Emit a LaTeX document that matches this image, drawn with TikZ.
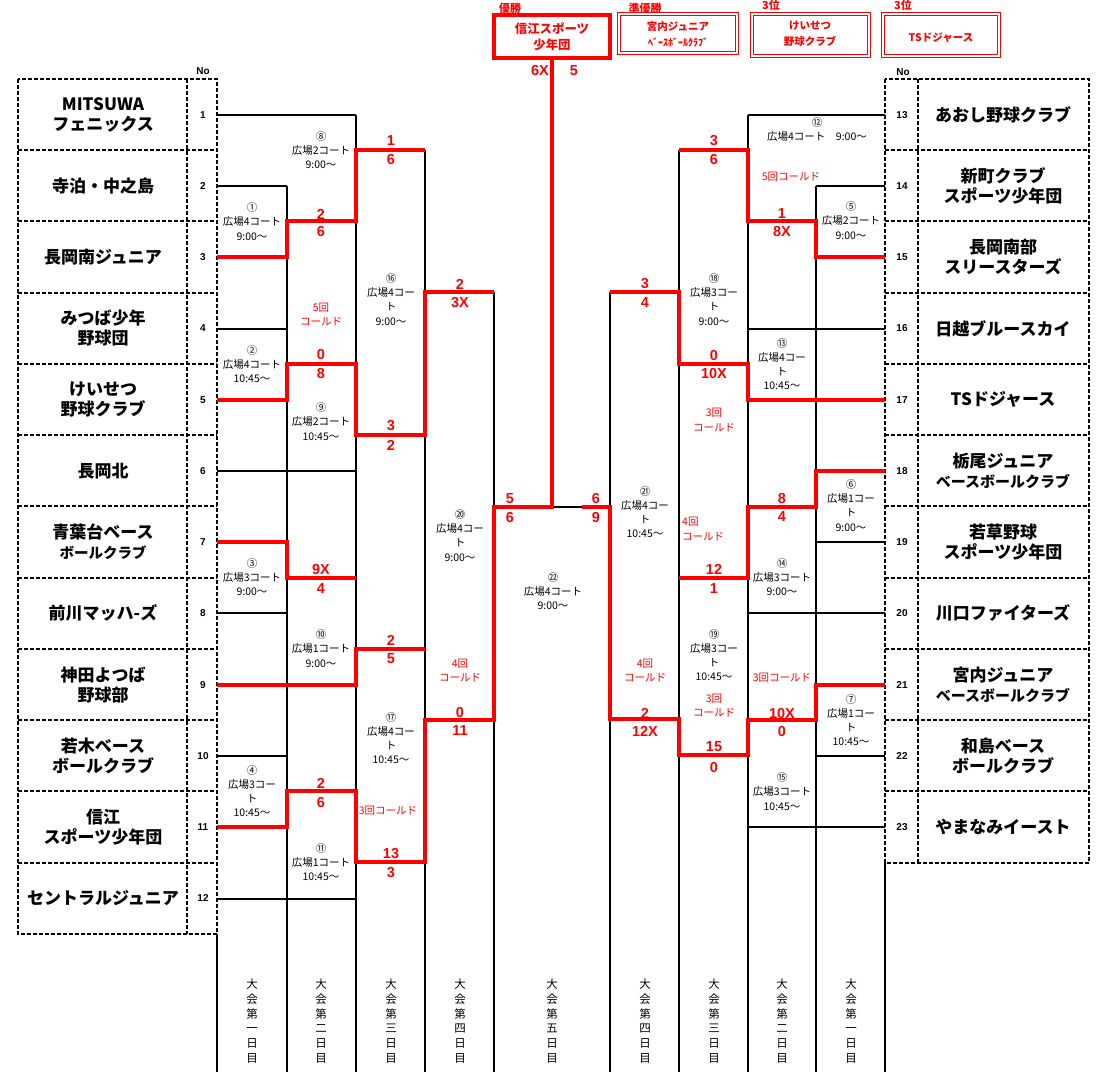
\documentclass[tikz,border=0pt]{standalone}
\usepackage{fontspec}
\newfontfamily\jp{Noto Sans CJK JP}
\newfontfamily\lsans{Liberation Sans}
\definecolor{rd}{RGB}{255,0,0}
\tikzset{
 colln/.style={line width=1.1pt, draw=black},
 blk/.style={line width=1.5pt, draw=black},
 redp/.style={line width=3.8pt, draw=rd, line join=miter},
 tbl/.style={line width=1.9pt, draw=black, dash pattern=on 4pt off 2pt},
 team/.style={font=\jp\bfseries\fontsize{17}{20}\selectfont, align=center, inner sep=0},
 num/.style={font=\lsans\bfseries\fontsize{10}{12}\selectfont, inner sep=0},
 mlab/.style={font=\jp\fontsize{10.5}{14.2}\selectfont, align=center, inner sep=0},
 sc/.style={font=\lsans\bfseries\fontsize{14.5}{16}\selectfont, text=rd, inner sep=0},
 note/.style={font=\jp\fontsize{10.5}{14.2}\selectfont, text=rd, align=center, inner sep=0},
 dayl/.style={font=\jp\fontsize{11.5}{14.8}\selectfont, align=center, inner sep=0},
 rlab/.style={font=\jp\bfseries\fontsize{11}{13}\selectfont, text=rd, inner sep=0},
 boxt/.style={font=\jp\bfseries\fontsize{10.5}{16}\selectfont, text=rd, align=center, inner sep=0},
 dbl/.style={draw=rd, line width=1.1pt, double=white, double distance=1.4pt}
}
\begin{document}
\begin{tikzpicture}[x=1pt,y=-1pt]
\path[use as bounding box] (0,0) rectangle (1103,1090);

% ---------- column lines ----------
\draw[colln] (217,934) -- (217,1072);
\draw[colln] (287,186) -- (287,1072);
\draw[colln] (356,115) -- (356,1072);
\draw[colln] (425,150) -- (425,1072);
\draw[colln] (494,292) -- (494,1072);
\draw[colln] (610,292) -- (610,1072);
\draw[colln] (679,150) -- (679,1072);
\draw[colln] (748,115) -- (748,1072);
\draw[colln] (816,186) -- (816,1072);
\draw[colln] (885,863) -- (885,1072);

% ---------- team tables ----------
\draw[tbl] (18,79) rectangle (217,934);
\draw[tbl] (187,79) -- (187,934);
\foreach \y in {150,221,293,364,435,506,578,649,720,791,863} \draw[tbl] (18,\y) -- (217,\y);
\draw[tbl] (885,79) rectangle (1089,863);
\draw[tbl] (918,79) -- (918,863);
\foreach \y in {150,221,293,364,435,506,578,649,720,791} \draw[tbl] (885,\y) -- (1089,\y);

\node[num] (noL) at (203,71) {No};
\node[num] (noR) at (903,72) {No};

% team names left
\node[team] (t1) at (103,114.6) {MITSUWA\\フェニックス};
\node[team] (t2) at (103,185.9) {寺泊・中之島};
\node[team] (t3) at (103,257.1) {長岡南ジュニア};
\node[team] (t4) at (103,328.4) {みつば少年\\野球団};
\node[team] (t5) at (103,399.6) {けいせつ\\野球クラブ};
\node[team] (t6) at (103,470.9) {長岡北};
\node[team] (t7) at (103,542.1) {青葉台ベース\\{\fontsize{14.5}{18}\selectfont ボールクラブ}};
\node[team] (t8) at (103,613.4) {前川マッハ-ズ};
\node[team] (t9) at (103,684.6) {神田よつば\\野球部};
\node[team] (t10) at (103,755.9) {若木ベース\\ボールクラブ};
\node[team] (t11) at (103,827.1) {信江\\スポーツ少年団};
\node[team] (t12) at (103,898.4) {セントラルジュニア};
% team names right
\node[team] (t13) at (1003,114.6) {あおし野球クラブ};
\node[team] (t14) at (1003,185.9) {新町クラブ\\スポーツ少年団};
\node[team] (t15) at (1003,257.1) {長岡南部\\スリースターズ};
\node[team] (t16) at (1003,328.4) {日越ブルースカイ};
\node[team] (t17) at (1003,399.6) {TSドジャース};
\node[team] (t18) at (1003,470.9) {栃尾ジュニア\\{\fontsize{15}{18}\selectfont ベースボールクラブ}};
\node[team] (t19) at (1003,542.1) {若草野球\\スポーツ少年団};
\node[team] (t20) at (1003,613.4) {川口ファイターズ};
\node[team] (t21) at (1003,684.6) {宮内ジュニア\\{\fontsize{15}{18}\selectfont ベースボールクラブ}};
\node[team] (t22) at (1003,755.9) {和島ベース\\ボールクラブ};
\node[team] (t23) at (1003,827.1) {やまなみイースト};

% numbers
\foreach \i in {1,...,12} \node[num] (nL\i) at (203,{79+71.25*(\i-0.5)}) {\i};
\foreach \i [evaluate=\i as \j using int(\i+12)] in {1,...,11} \node[num] (nR\i) at (902,{79+71.25*(\i-0.5)}) {\j};

% ---------- black bracket lines ----------
\draw[blk] (217,115) -- (356,115);
\draw[blk] (217,186) -- (287,186);
\draw[blk] (217,329) -- (287,329);
\draw[blk] (217,471) -- (356,471);
\draw[blk] (217,613) -- (287,613);
\draw[blk] (217,756) -- (287,756);
\draw[blk] (217,899) -- (356,899);
\draw[blk] (885,115) -- (748,115);
\draw[blk] (885,186) -- (816,186);
\draw[blk] (885,329) -- (748,329);
\draw[blk] (885,542) -- (816,542);
\draw[blk] (885,613) -- (748,613);
\draw[blk] (885,756) -- (816,756);
\draw[blk] (885,827) -- (748,827);
\draw[blk] (552,507) -- (582,507);

% ---------- red winner paths ----------
\draw[redp] (217,257) -- (287,257) -- (287,221) -- (356,221) -- (356,150) -- (425,150);
\draw[redp] (217,400) -- (287,400) -- (287,364) -- (356,364) -- (356,435) -- (425,435) -- (425,292) -- (494,292);
\draw[redp] (217,542) -- (287,542) -- (287,578) -- (356,578);
\draw[redp] (217,685) -- (356,685) -- (356,649) -- (425,649);
\draw[redp] (217,827) -- (287,827) -- (287,791) -- (356,791) -- (356,862) -- (425,862) -- (425,720) -- (494,720) -- (494,507) -- (552,507) -- (552,58);
\draw[redp] (885,257) -- (816,257) -- (816,221) -- (748,221) -- (748,150) -- (679,150);
\draw[redp] (885,400) -- (748,400) -- (748,364) -- (679,364) -- (679,292) -- (610,292);
\draw[redp] (885,471) -- (816,471) -- (816,507) -- (748,507) -- (748,578) -- (679,578);
\draw[redp] (885,685) -- (816,685) -- (816,720) -- (748,720) -- (748,755) -- (679,755) -- (679,719) -- (610,719) -- (610,507) -- (582,507);

% ---------- top result boxes ----------
\draw[draw=rd, line width=3.5pt] (494,15) rectangle (610,58);
\node[boxt, font=\jp\bfseries\fontsize{12.4}{16}\selectfont] (champ) at (552,36.5) {信江スポーツ\\少年団};
\draw[dbl] (619,14) rectangle (737,53);
\node[boxt] (second) at (678,34) {宮内ジュニア\\{\fontsize{10}{16}\selectfont ﾍﾞｰｽﾎﾞｰﾙｸﾗﾌﾞ}};
\draw[dbl] (752,14) rectangle (869,56);
\node[boxt] (third1) at (810,34) {けいせつ\\野球クラブ};
\draw[dbl] (883,14) rectangle (999,56);
\node[boxt] (third2) at (941,38) {TSドジャース};
\node[rlab] (lab1) at (510,8) {優勝};
\node[rlab] (lab2) at (645,8) {準優勝};
\node[rlab] (lab3) at (771,5) {3位};
\node[rlab] (lab4) at (903,5) {3位};

% ---------- match labels ----------
\node[mlab] (m1) at (252,221.5) {①\\広場4コート\\9:00～};
\node[mlab] (m2) at (252,364) {②\\広場4コート\\10:45～};
\node[mlab] (m3) at (252,577) {③\\広場3コート\\9:00～};
\node[mlab] (m4) at (252,791) {④\\広場3コー\\ト\\10:45～};
\node[mlab] (m8) at (321,150) {⑧\\広場2コート\\9:00～};
\node[mlab] (m9) at (321,421.5) {⑨\\広場2コート\\10:45～};
\node[mlab] (m10) at (321,648.5) {⑩\\広場1コート\\9:00～};
\node[mlab] (m11) at (321,862) {⑪\\広場1コート\\10:45～};
\node[mlab] (m16) at (391,299.5) {⑯\\広場4コー\\ト\\9:00～};
\node[mlab] (m17) at (391,738) {⑰\\広場4コー\\ト\\10:45～};
\node[mlab] (m20) at (460,535.5) {⑳\\広場4コー\\ト\\9:00～};
\node[mlab] (m22) at (553,591) {㉒\\広場4コート\\9:00～};
\node[mlab] (m21) at (645,512) {㉑\\広場4コー\\ト\\10:45～};
\node[mlab] (m12) at (817,129.5) {⑫\\広場4コート　9:00～};
\node[mlab] (m5) at (851,220.5) {⑤\\広場2コート\\9:00～};
\node[mlab] (m13) at (782,364) {⑬\\広場4コー\\ト\\10:45～};
\node[mlab] (m18) at (714,299.5) {⑱\\広場3コー\\ト\\9:00～};
\node[mlab] (m6) at (851,505.5) {⑥\\広場1コー\\ト\\9:00～};
\node[mlab] (m14) at (782,577) {⑭\\広場3コート\\9:00～};
\node[mlab] (m19) at (714,655) {⑲\\広場3コー\\ト\\10:45～};
\node[mlab] (m7) at (851,720) {⑦\\広場1コー\\ト\\10:45～};
\node[mlab] (m15) at (782,791.5) {⑮\\広場3コート\\10:45～};

% ---------- scores ----------
\node[sc] (s1a) at (321,214) {2};   \node[sc] (s1b) at (321,232) {6};
\node[sc] (s8a) at (391,141) {1};   \node[sc] (s8b) at (391,160) {6};
\node[sc] (s2a) at (321,355) {0};   \node[sc] (s2b) at (321,374) {8};
\node[sc] (s9a) at (391,426) {3};   \node[sc] (s9b) at (391,445) {2};
\node[sc] (s16a) at (460,284) {2};  \node[sc] (s16b) at (460,303) {3X};
\node[sc] (s3a) at (321,569) {9X};  \node[sc] (s3b) at (321,589) {4};
\node[sc] (s10a) at (391,640) {2};  \node[sc] (s10b) at (391,659) {5};
\node[sc] (s4a) at (321,783) {2};   \node[sc] (s4b) at (321,802) {6};
\node[sc] (s11a) at (391,854) {13}; \node[sc] (s11b) at (391,873) {3};
\node[sc] (s17a) at (460,712) {0};  \node[sc] (s17b) at (460,731) {11};
\node[sc] (s20a) at (510,499) {5};  \node[sc] (s20b) at (510,518) {6};
\node[sc] (s21a) at (596,499) {6};  \node[sc] (s21b) at (596,518) {9};
\node[sc] (sfa) at (540,71) {6X};   \node[sc] (sfb) at (574,71) {5};
\node[sc] (s12a) at (714,141) {3};  \node[sc] (s12b) at (714,160) {6};
\node[sc] (s5a) at (782,214) {1};   \node[sc] (s5b) at (782,232) {8X};
\node[sc] (s18a) at (645,284) {3};  \node[sc] (s18b) at (645,303) {4};
\node[sc] (s13a) at (714,356) {0};  \node[sc] (s13b) at (714,374) {10X};
\node[sc] (s6a) at (782,499) {8};   \node[sc] (s6b) at (782,517) {4};
\node[sc] (s14a) at (714,569) {12}; \node[sc] (s14b) at (714,589) {1};
\node[sc] (s19a) at (645,713) {2};  \node[sc] (s19b) at (645,731) {12X};
\node[sc] (s7a) at (782,713) {10X}; \node[sc] (s7b) at (782,731) {0};
\node[sc] (s15a) at (714,747) {15}; \node[sc] (s15b) at (714,767) {0};

% ---------- called-game notes ----------
\node[note] (c1) at (321,314.5) {5回\\コールド};
\node[note] (c2) at (388,811) {3回コールド};
\node[note] (c3) at (460,670.5) {4回\\コールド};
\node[note] (c4) at (791,177) {5回コールド};
\node[note] (c5) at (714,420) {3回\\コールド};
\node[note, align=left, anchor=west] (c6) at (682,529) {4回\\コールド};
\node[note] (c7) at (645,670.5) {4回\\コールド};
\node[note] (c8) at (782,678) {3回コールド};
\node[note] (c9) at (714,705.5) {3回\\コールド};

% ---------- day labels ----------
\node[dayl] (d1) at (252,1021) {大\\会\\第\\一\\日\\目};
\node[dayl] (d2) at (321,1021) {大\\会\\第\\二\\日\\目};
\node[dayl] (d3) at (391,1021) {大\\会\\第\\三\\日\\目};
\node[dayl] (d4) at (460,1021) {大\\会\\第\\四\\日\\目};
\node[dayl] (d5) at (552,1021) {大\\会\\第\\五\\日\\目};
\node[dayl] (d6) at (645,1021) {大\\会\\第\\四\\日\\目};
\node[dayl] (d7) at (714,1021) {大\\会\\第\\三\\日\\目};
\node[dayl] (d8) at (782,1021) {大\\会\\第\\二\\日\\目};
\node[dayl] (d9) at (851,1021) {大\\会\\第\\一\\日\\目};
\end{tikzpicture}
\end{document}
